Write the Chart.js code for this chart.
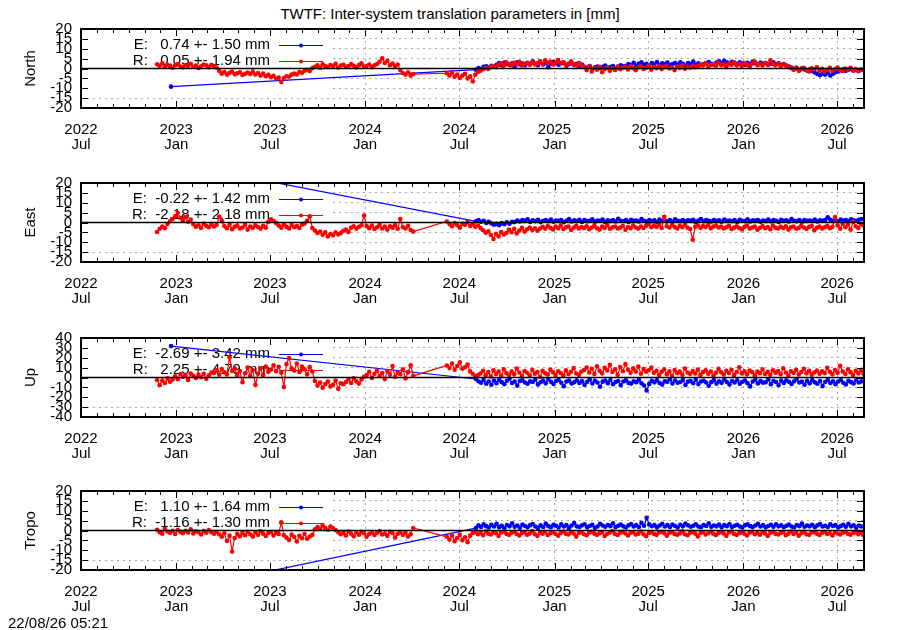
<!DOCTYPE html>
<html>
<head>
<meta charset="utf-8">
<title>TWTF: Inter-system translation parameters in [mm]</title>
<script src="https://cdn.jsdelivr.net/npm/chart.js@4.4.1/dist/chart.umd.min.js"></script>
<style>
  body { margin: 0; background: #fff; }
  #page { position: relative; width: 900px; height: 630px; font-family: "Liberation Sans", Arial, sans-serif; color: #000; }
  .panel { position: absolute; left: 0; }
  #title { position: absolute; top: 6px; left: 0; width: 900px; text-align: center; font-size: 15px; line-height: 15px; }
  #stamp { position: absolute; left: 8px; top: 615px; font-size: 15px; line-height: 15px; }
</style>
</head>
<body>
<div id="page">
  <div id="title">TWTF: Inter-system translation parameters in [mm]</div>
  <canvas class="panel" id="p0" width="900" height="134" style="top:19px"></canvas>
  <canvas class="panel" id="p1" width="900" height="134" style="top:173px"></canvas>
  <canvas class="panel" id="p2" width="900" height="134" style="top:328px"></canvas>
  <canvas class="panel" id="p3" width="900" height="134" style="top:481px"></canvas>
  <div id="stamp">22/08/26 05:21</div>
</div>
<script>
// x is days since 2022-07-01, one reading every 5 days
var stepDays = 5;
var xMax = 1513;
var firstE = 174;            // lone early E point (Dec 2022)
var redStart = [147, 707];   // R runs, gap Apr-Jun 2024
var blueStart = 763;

var tickDays = [0, 184, 365, 549, 731, 915, 1096, 1280, 1461];
var tickYears = ["2022", "2023", "2023", "2024", "2024", "2025", "2025", "2026", "2026"];
var tickMonths = ["Jul", "Jan", "Jul", "Jan", "Jul", "Jan", "Jul", "Jan", "Jul"];

var panelNames = ["North", "East", "Up", "Tropo"];
var panelLimits = [20, 20, 40, 20];
var panelSteps = [5, 5, 10, 5];
var panelTops = [29, 183, 338, 491];
var panelHeight = 79;
var keyE = ["E:   0.74 +- 1.50 mm", "E:  -0.22 +- 1.42 mm", "E:  -2.69 +- 3.42 mm", "E:   1.10 +- 1.64 mm"];
var keyR = ["R:   0.05 +- 1.94 mm", "R:  -2.18 +- 2.18 mm", "R:   2.25 +- 4.79 mm", "R:  -1.16 +- 1.30 mm"];
var eFirst = [-9.2, 30.4, 31.8, -31.0];

var northR1 = [2.1, 1.4, 2.6, 0.8, 1.9, 1.2, 0.4, 1.7, 2.2, 1.0, 0.6, 1.8, 1.3, 2.4, 0.9, 1.5, 0.3, 1.1, 2.0, 1.6, 0.7, 1.9, 1.2, 0.5,
  -1.2, -2.6, -1.8, -3.1, -2.2, -1.5, -2.9, -2.4, -1.9, -3.3, -2.7, -2.0, -2.8, -1.6, -3.0, -2.3, -3.6, -2.5, -3.9, -3.2, -4.4, -3.7, -5.1, -4.6, -6.8,
  -4.8, -3.9, -4.2, -3.1, -2.6, -3.0, -1.8, -2.2, -1.1, -0.6, -1.3, 0.2,
  0.9, 1.6, 0.4, 2.1, 1.3, 0.7, 1.8, 1.1, 2.4, 0.5, 1.5, 1.9, 0.8, 1.2, 2.2, 1.4, 0.6, 1.7, 2.6, 1.0, 1.3, 2.0, 0.7, 1.6, 2.3,
  3.4, 5.2, 2.8, 3.9, 1.7, 2.5, 1.2, 2.0,
  -0.8, -2.3, -3.1, -1.9, -3.6, -2.8];
var northR2 = [-2.4, -3.5, -2.1, -4.2, -3.0, -4.8, -3.6, -2.7, -5.1, -4.0, -6.6,
  -3.2, -1.8, -1.1, -0.4, 0.3, -0.2, 0.8, 1.2, 0.6,
  1.8, 2.6, 1.4, 3.1, 2.2, 1.7, 2.9, 2.0, 3.4, 1.5, 2.4, 2.8, 1.9, 3.3, 2.1, 2.7, 3.8, 2.3, 4.1, 2.9, 3.5, 2.0, 3.0, 4.3, 2.6, 3.2, 1.8, 2.5, 3.6, 2.2, 1.6, 2.8, 1.9,
  0.6, -0.8, 1.2, -1.5, 0.2, -0.6, 0.9, -1.9, -0.3, 0.5, -1.2, 0.1, -0.7, 1.0, -0.4, 0.3,
  0.8, -0.5, 1.3, 0.2, -0.9, 0.6, 1.1, -0.2, 0.4, 1.5, -0.6, 0.9, 0.1, 1.2, -0.3, 0.7, 1.4, 0.0, 0.5, -0.8, 1.0, 0.3, 1.6, -0.1, 0.8, 0.4, 1.3, 0.6,
  1.2, 2.0, 1.5, 2.6, 0.9, 1.8, 2.3, 1.4, 2.9, 1.7, 2.1, 1.0, 2.5, 1.9, 3.2, 1.6, 2.2, 1.3, 2.7, 2.0, 1.1, 2.4, 3.5, 1.8, 2.2, 1.5, 2.8, 1.9, 4.1, 2.3, 1.6, 2.5, 1.2, 2.0, 1.4, 0.8,
  0.2, -0.6, 0.5, -1.2, -0.3, 0.4, -0.9, -1.5, 0.1, -0.5, 0.6, -1.0, -0.2, -1.6, -0.7, 0.3, -1.1, -0.4, 0.5, -0.8, -1.3, 0.0, -0.6, 0.4, -1.0, -0.3, -1.4, -0.5, -0.9];
var northE = [-0.6, 0.2, -0.3, 0.8, 1.1, 0.5, 1.4, 0.9,
  1.9, 2.7, 1.5, 3.0, 2.3, 1.8, 2.6, 0.8, 3.2, 2.0, 2.5, 1.6, 2.9, 2.2, 3.6, 2.4, 1.7, 3.1, 2.0, 2.8, 0.6, 2.3, 3.4, 2.5, 1.9, 2.7, 3.0, 1.4, 2.2, 2.6, 1.8, 2.4, 1.2, 2.0,
  0.9, 0.2, 1.3, -0.4, 0.6, 1.0, 0.1, 0.8, 1.5, 0.3, 0.7, 1.2, -0.2, 0.9, 1.6, 1.1,
  1.4, 2.2, 1.8, 2.9, 1.5, 2.5, 3.1, 1.9, 2.4, 1.2, 2.8, 2.0, 3.3, 1.7, 2.6, 2.1, 3.0, 1.6, 2.3, 2.7, 1.9, 3.2, 2.4, 1.5, 2.8, 2.2, 3.5, 2.0, 2.6, 1.8,
  2.1, 2.8, 3.3, 2.4, 1.9, 3.0, 3.6, 2.7, 3.9, 3.2, 2.5, 3.4, 2.8, 2.2, 3.1, 2.6, 1.8, 2.9, 2.3, 3.5, 2.7, 2.0, 3.0, 2.4, 2.8, 1.9, 2.5, 3.2, 2.1, 2.6, 1.7, 2.3, 1.5, 1.0,
  0.5, -0.3, 0.2, -0.8, 0.1, -0.5, -1.0, -0.4, -1.3,
  -2.0, -2.8, -3.4, -2.5, -3.1, -2.2, -3.6, -2.7, -1.9, -1.5,
  -0.9, -0.4, -1.2, -0.6, -0.2, -1.0, -0.7, -1.3, -0.5];

var eastR1 = [-4.8, -3.2, -2.1, -2.9, -0.8,
  0.6, 1.8, 3.1, 4.9, 2.4, 1.2, 2.8, 0.4, 1.5,
  -0.9, -2.1, -1.4, -2.8, -0.6, -1.7, -2.4, -1.0, -2.0, -1.3,
  3.0, 0.8,
  -1.8, -2.9, -1.2, -3.4, -2.2, -1.5, -3.0, -2.5, -1.1, -3.6, -2.0, -2.7, -1.4, -2.3, -3.1, -1.7, -2.6,
  0.4, 1.6, 0.9, -0.3,
  -1.5, -2.6, -1.0, -2.2, -3.0, -1.3, -2.4, -1.8, -2.8, -1.1, -0.5, 0.8,
  3.2,
  -2.8, -4.1, -5.3, -4.6, -6.2, -5.0, -7.1, -5.8, -6.5, -4.9, -6.0, -5.4, -4.2, -3.6, -4.8,
  -2.6, -1.9, -3.1, -2.2, -1.4, 3.5,
  -1.8, -2.9, -1.5, -3.3, -2.4, -1.2, -3.0, -2.1, -3.6, -1.9, -2.6, -1.4, -3.2, 1.8, -2.3, -3.0, -1.7, -3.8, -4.6];
var eastR2 = [0.5, -0.8, -1.9, -0.3, -1.4, -2.6, -0.7, -1.2, 0.2, -1.8, -0.9, -2.2, -1.5,
  -2.8, -3.9, -5.2, -4.4, -6.3, -8.4, -5.7, -7.0, -4.8, -6.1, -5.3, -3.6, -4.9, -3.2, -5.6, -4.1, -2.7, -4.6, -3.4, -2.5, -3.8, -2.9, -4.2, -3.1,
  -2.2, -3.1, -1.8, -2.7, -3.5, -2.0, -2.9, -1.5, -3.3, -2.4, -2.0, -3.8, -2.6, -1.7, -3.0, -2.3, -2.8, -1.9, -3.4, -2.5, -1.6, -2.9, -3.6, -2.1, -2.7, -1.4, -3.2, -2.4, -2.0, -3.0, -2.6, -1.8, -3.7, -2.3, -2.9, -1.5, -2.5, -3.1, -2.0, -2.8, -1.7, -0.6, -2.4,
  -1.6, -2.3, -1.1, -2.8, 2.9, -1.9, -2.5, -1.3, -2.2, -3.0, -1.7, -2.4, -1.0, -2.6, -3.3, -8.7, -2.1, -1.5, -2.7, -1.8, -2.3, -1.2, -2.9, -2.0, -1.6, -2.5,
  -2.1, -3.0, -2.4, -1.7, -3.3, -2.6, -1.9, -2.8, -3.5, -2.2, -1.6, -3.1, -2.5, -2.0, -3.7, -2.7, -1.8, -2.9, -2.3, -3.4, -1.5, -2.6, -3.0, -2.1, -2.8, -1.9, -3.6, -2.4, -2.0, -3.2, -2.7, -1.6, -2.5, -3.3, -2.2, -1.8, -3.9, -2.6, -2.1, -3.0, -2.4, -1.7, -2.9, -2.2,
  2.8, -1.5, -3.2, -0.6, -2.4, -1.0, -3.6, 0.4, -1.9, -2.8, -0.9, -1.6];
var eastE = [0.6, 1.2, 0.4, 0.9, -0.2, 0.3,
  -0.5, -1.1, -0.7, -1.4, -0.3, -0.9, 0.1, -0.6, 0.4, 0.2,
  1.0, 0.5, 1.3, 0.8, 1.6, 0.3, 1.1, 0.7, 1.4, 0.2, 0.9, 1.2, 0.6, 1.5, 0.4,
  1.0, 0.8, 1.3, 0.1, 0.9, 1.7, 0.5, 1.1, 0.7, 1.4, 0.3, 1.2, 0.6, 0.9, 1.6,
  0.4, 1.0, 0.8, 1.5, 0.2, 1.1, 0.7, 1.3, 0.5, 1.9, 0.9, 0.6, 1.2, 0.3, 1.4,
  0.8, 1.0, 0.5, 1.7, 0.9, 0.4, 1.3, 0.7, 1.1, 0.2, 1.5, 0.8, 1.0, 0.6, 1.2,
  0.4, 1.6, 0.9, 0.7, 1.3, 0.5, 1.1, 0.8, 1.4, 0.3, 1.0, 1.8, 0.6, 1.2, 0.9,
  0.5, 1.3, 0.7, 1.1, 0.4, 1.5, 0.8, 1.0, 0.6, 1.2, 0.3, 1.4, 0.9, 0.7, 1.6,
  0.5, 1.1, 0.8, 1.3, 0.4, 1.0, 0.7, 1.5, 0.6, 1.2, 0.9, 0.3, 1.4, 0.8, 1.1,
  0.5, 1.7, 0.9, 0.6, 1.2, 0.4, 1.3, 0.8, 1.0, 0.7, 1.5, 0.5, 1.1, 0.9, 1.3,
  2.6, 1.4, 0.8, 1.2, 0.6, 1.5, 1.0, 1.3, 0.7, 1.6, 1.1, 0.9, 1.4, 1.8];

var upR1 = [-2.5, -7.8, -3.1, -5.6, -0.9, -4.3, -2.0,
  1.2, -1.8, 3.5, 0.6, 2.4, -2.6, 4.1, 1.8, -0.4, 2.9, 0.3, 3.8, -1.2, 2.2, 5.0,
  4.6, 7.2, 2.8, 8.5, 5.3, 3.1, 20.4, 6.7,
  9.2, 2.1, 6.5, -4.8, 4.3, 10.1, 1.5, 7.6, -7.5, 3.9, 8.8, 2.4, 11.2, 5.7,
  8.1, 12.4, 6.3, 10.8, 4.9, -9.6, 13.5, 19.8, 9.4, 7.0, 14.2, 5.6, 11.0, 8.3, 3.2, 10.5, 6.1,
  -3.5, -8.2, -5.1, -10.4, -6.7, -4.0, -9.1, -7.3, -3.2, -11.5, -5.8, -6.9,
  -4.6, -1.8, -5.5, -0.7, -3.9, -6.2, -2.1, 0.8,
  2.4, 5.8, -0.5, 3.7, 7.1, 1.2, 4.5, -1.6, 6.3, 2.9, 11.6, 0.6, 4.8, 3.3, 8.2, -0.9, 5.4, 12.3, 1.6];
var upR2 = [12.2, 9.5, 14.1, 7.8, 11.6, 15.3, 8.9, 10.4, 13.0,
  6.2, 3.8, 1.1, 2.5,
  4.1, 6.8, 2.3, 5.5, 0.9, 7.4, 3.6, 5.9, 1.7, 8.3, 4.4, 2.8, 6.1, 3.2, 9.0, 5.0, 1.4, 6.6, 4.8, 2.1, 7.7, 3.9, 5.6, 0.5, 6.9, 4.2, 3.0, 8.1, 5.3, 2.6, 6.4, 4.6, 1.9, 7.2, 3.5, 5.8, 9.6, 4.0, 2.7, 6.0,
  7.5, 10.2, 5.1, 8.8, 3.6, 11.4, 6.9, 4.2, 9.7, 7.1, 12.8, 5.6, 8.3, 2.9, 10.6, 6.4, 13.5, 7.8, 4.7, 9.2, 6.0, 11.1, 3.8, 8.5, 5.9, 7.3, 10.0,
  4.8, 6.9, 2.6, 5.7, 8.4, 3.3, 6.2, 1.5, 7.6, 4.4, 5.9, 2.8, 9.1, 5.0, 3.7, 6.6, 4.1, 8.0, 2.2, 5.4,
  7.3, 3.9, 6.1, 1.8, 4.7, 8.7, 5.2, 3.0, 6.8, 4.5, 7.9, 2.4, 5.6, 10.3, 4.0, 6.4, 3.2, 7.1, 5.3, 1.9,
  6.0, 4.3, 8.2, 3.6, 5.8, 2.7, 7.4, 4.9, 6.5, 3.4, 9.4, 5.1, 2.0, 6.3, 4.6, 7.7, 3.1, 5.5, 8.9, 4.2,
  6.7, 2.9, 5.0, 7.0, 3.8, 6.2, 4.4, 9.8, 5.7, 3.3, 7.5, 4.8, 11.8, 6.1, 3.5, 8.3, 5.2, 2.5, 6.9, 4.1,
  7.2, 3.7];
var upE = [-1.5, -3.8, -5.2, -2.6, -6.4, -4.1, -7.3, -3.0, -5.8, -2.2, -4.7, -6.9, -3.4, -1.1, -5.5, -4.0, -8.2, -3.6, -2.7, -5.1,
  -6.3, -3.9, -4.6, -2.0, -7.0, -4.8, -3.2, -5.9, -1.7, -4.3, -6.6, -3.5, -2.4, -5.3, -8.8, -4.1, -3.0, -6.1, -4.9, -2.8,
  -5.6, -3.7, -7.5, -4.4, -2.1, -6.0, -3.3, -5.0, -9.4, -4.2, -3.1, -5.7, -2.5, -6.8, -4.5, -3.6, -7.8, -4.0, -2.9, -5.4,
  -6.2, -3.8, -4.7, -2.3, -5.9, -8.1,
  -13.2,
  -6.5, -3.4, -4.9, -2.7, -5.6, -7.2, -3.9, -4.4, -1.8, -6.0, -3.1, -5.3, -4.6, -2.5, -7.6, -4.2, -3.5, -5.8, -2.2, -6.7,
  -4.0, -3.3, -5.1, -8.4, -4.7, -2.6, -6.2, -3.8, -5.4, -1.9, -4.5, -7.0, -3.6, -5.0, -2.8, -6.4, -4.3, -3.0, -5.7, -9.0,
  -4.1, -2.4, -6.1, -3.7, -5.2, -4.8, -2.1, -6.9, -3.5, -4.6, -7.9, -3.2, -5.5, -2.9, -4.4, -6.6, -3.9, -1.6, -5.1, -4.2,
  -7.4, -3.3, -5.9, -2.7, -4.9, -6.3, -3.6, -8.7, -4.5, -2.3, -5.6, -3.8, -6.8, -4.0, -2.5, -5.3, -7.1, -3.4, -4.7, -6.0,
  -2.8, -5.0, -3.9];

var tropoR1 = [0.4, -0.9, -1.6, 0.8, -0.5, -1.2, -0.2, -1.8, 0.3, -0.7, -1.4, -0.1, -1.0, 0.6, -1.5, -0.4, -0.8, -2.0, -0.3, -1.1, 0.2, -0.9, -1.7, -0.6,
  -1.9, -3.2, -1.4, -5.3, -2.6, -10.6, -3.8, -1.7, -2.9,
  -1.2, -2.4, -0.6, -1.9, -3.1, -1.0, -2.2, -0.4, -1.6, -2.8, -1.3, -0.8, -2.5, -1.1, -1.8,
  4.2,
  -2.4, -3.6, -4.8, -2.1, -3.3, -5.6, -2.7, -3.9, -1.8, -4.2, -3.0, -2.2,
  0.6, 1.8, 0.9, 2.6, 1.3, 0.4, 2.0, 1.1, 0.2,
  -0.8, -1.9, -1.2, -2.5, -0.5, -1.6, -2.9, -1.0, -2.1, -0.7, -1.4, -3.2, -1.8, -0.9, -2.3, -1.1, -0.4, -2.0, -1.5, -2.7, -0.6, -1.3, -3.5, -1.7, -0.8, -2.2, -1.2, -3.0, -1.9,
  1.3];
var tropoR2 = [-3.2, -4.6, -2.5, -5.4, -3.8, -2.1, -4.9, -3.4, -5.9,
  -2.6, -1.3, -0.7, -1.9, -1.1, -2.4, -0.5, -1.6, -2.0, -0.9, -1.4, -2.8, -1.0, -0.4, -1.7, -2.2, -1.2, -0.6, -1.8, -2.5,
  -1.3, -0.8, -2.1, -1.5, -0.3, -1.9, -2.7, -1.1, -1.6, -0.7, -2.3, -1.4, -0.9, -1.8, -2.6, -1.2, -0.5, -1.7, -2.0, -1.0,
  -1.5, -3.1, -1.3, -0.8, -1.9, -2.4, -1.1, -0.6, -1.6, -2.2, -1.4, -0.9, -2.8, -1.7, -1.0, -0.4, -1.8, -2.3, -1.2, -0.7,
  -1.5, -2.5, -1.1, -0.8, -2.0, -1.6, -0.5, -1.9, -2.9, -1.3, -0.9, -1.7, -2.2, -1.0, -0.6, -1.4, -2.6, -1.2, -0.8, -1.8,
  -2.1, -1.5, -0.4, -1.9, -2.4, -1.1, -0.7, -1.6, -3.0, -1.3, -0.9, -2.0, -1.4, -0.6, -1.7, -2.3, -1.2, -0.8, -1.5, -2.7,
  -1.0, -0.5, -1.8, -2.2, -1.4, -0.9, -1.6, -2.5, -1.1, -0.7, -1.9, -1.3, -2.1, -0.8, -1.5, -2.8, -1.2, -0.6, -1.7, -2.0,
  -1.3, -0.9, -2.4, -1.6, -0.5, -1.8, -1.1, -2.6, -1.4, -0.7, -1.9, -2.2, -1.0, -0.8, -1.6, -2.3, -1.2, -0.6, -1.8, -1.4,
  -2.5, -0.9, -1.5, -2.0, -1.1, -0.7, -1.7, -2.1, -1.3, -0.8, -1.9, -1.2, -2.4];
var tropoE = [1.2, 2.6, 1.8, 3.1, 2.2, 1.5, 2.9, 2.0, 3.4, 1.7, 2.4, 1.1, 2.8, 2.1, 3.6, 1.9, 2.5, 1.4, 3.0, 2.3,
  1.6, 2.7, 3.3, 2.0, 1.3, 2.6, 1.8, 3.5, 2.2, 1.7, 2.9, 2.4, 1.5, 3.1, 2.0, 2.7, 1.2, 2.5, 3.8, 2.1,
  1.8, 2.6, 3.2, 1.6, 2.3, 2.9, 1.4, 2.0, 3.4, 2.5, 1.9, 2.8, 2.2, 3.7, 1.7, 2.4, 3.0, 2.1, 1.5, 2.6,
  3.3, 2.0, 2.7, 1.8, 3.9, 2.4,
  6.4,
  3.1, 2.2, 2.8, 1.6, 2.5, 3.4, 2.0, 2.7, 1.8, 3.0, 2.3, 1.5, 2.9, 2.1, 3.5, 2.6, 1.9, 2.4, 3.2, 2.0,
  1.7, 2.8, 2.3, 3.6, 1.9, 2.5, 2.1, 3.0, 1.6, 2.7, 2.2, 3.3, 1.8, 2.4, 2.9, 2.0, 1.5, 2.6, 3.1, 2.2,
  1.8, 2.5, 3.4, 2.0, 2.7, 1.6, 2.3, 2.9, 1.9, 3.2, 2.1, 2.6, 1.7, 2.4, 3.0, 2.0, 1.5, 2.8, 2.2, 3.5,
  1.9, 2.5, 2.1, 2.9, 1.7, 2.6, 3.3, 2.0, 2.4, 1.8, 3.1, 2.3, 2.7, 1.6, 2.2, 2.9, 1.9, 3.4, 2.1, 2.6,
  1.4, 2.5, 2.0];

var redRuns = [[northR1, northR2], [eastR1, eastR2], [upR1, upR2], [tropoR1, tropoR2]];
var blueRuns = [northE, eastE, upE, tropoE];

var FONT = '"Liberation Sans", Arial, sans-serif';
Chart.defaults.color = "#000";
Chart.defaults.font.family = FONT;
Chart.defaults.font.size = 15;

function run(start, vals) {
  return vals.map(function (v, i) { return { x: start + i * stepDays, y: v }; });
}

// month starts for the small ticks
var monthDays = [];
for (var m = 0; m <= 49; m++) {
  monthDays.push((Date.UTC(2022, 6 + m, 1) - Date.UTC(2022, 6, 1)) / 864e5);
}

// gnuplot look: opaque key box, inward ticks, border and zero axis on top
var frame = {
  id: "frame",
  beforeDatasetsDraw: function (chart, args, opts) {
    var a = chart.chartArea, c = chart.ctx;
    c.save();
    c.fillStyle = "#fff";
    c.fillRect(a.left + 1, a.top + 1, 332 - a.left - 1, 63);
    c.font = "15px " + FONT;
    c.textAlign = "right";
    c.textBaseline = "middle";
    var rows = [[opts.keyE, "#0000ff", a.top + 16], [opts.keyR, "#ff0000", a.top + 32]];
    rows.forEach(function (r) {
      c.fillStyle = "#000";
      c.fillText(r[0], 270, r[2]);
      c.strokeStyle = r[1];
      c.lineWidth = 1;
      c.beginPath();
      c.moveTo(279, r[2] + 0.5);
      c.lineTo(323, r[2] + 0.5);
      c.stroke();
      c.fillStyle = r[1];
      c.beginPath();
      c.arc(301, r[2] + 0.5, 2, 0, Math.PI * 2);
      c.fill();
    });
    c.restore();
  },
  afterDatasetsDraw: function (chart) {
    var a = chart.chartArea, c = chart.ctx;
    var xs = chart.scales.x, ys = chart.scales.y;
    c.save();
    c.strokeStyle = "#000";
    c.lineWidth = 1.5;
    var y0 = ys.getPixelForValue(0);
    c.beginPath();
    c.moveTo(a.left, y0);
    c.lineTo(a.right, y0);
    c.stroke();
    c.lineWidth = 1;
    c.beginPath();
    monthDays.forEach(function (d) {
      if (d > xMax) return;
      var px = Math.round(xs.getPixelForValue(d)) + 0.5;
      var len = tickDays.indexOf(d) >= 0 ? 7 : 4;
      c.moveTo(px, a.bottom);
      c.lineTo(px, a.bottom - len);
      c.moveTo(px, a.top);
      c.lineTo(px, a.top + len);
    });
    ys.ticks.forEach(function (t) {
      var py = Math.round(ys.getPixelForValue(t.value)) + 0.5;
      c.moveTo(a.left, py);
      c.lineTo(a.left + 7, py);
      c.moveTo(a.right, py);
      c.lineTo(a.right - 7, py);
    });
    c.stroke();
    c.lineWidth = 2;
    c.strokeRect(a.left, a.top, a.right - a.left, a.bottom - a.top);
    c.restore();
  }
};

var NONE = "rgba(0,0,0,0)";

panelNames.forEach(function (name, k) {
  var lim = panelLimits[k];
  var red = run(redStart[0], redRuns[k][0]).concat(run(redStart[1], redRuns[k][1]));
  var blue = [{ x: firstE, y: eFirst[k] }].concat(run(blueStart, blueRuns[k]));
  var canvas = document.getElementById("p" + k);

  var chart = new Chart(canvas, {
    type: "line",
    data: {
      datasets: [
        {
          label: keyR[k],
          data: red,
          borderColor: "#ff0000",
          backgroundColor: "#ff0000",
          borderWidth: 1.2,
          pointRadius: 2.3,
          pointBorderWidth: 0,
          pointHoverRadius: 0
        },
        {
          label: keyE[k],
          data: blue,
          borderColor: "#0000ff",
          backgroundColor: "#0000ff",
          borderWidth: 1.2,
          pointRadius: 2.3,
          pointBorderWidth: 0,
          pointHoverRadius: 0
        }
      ]
    },
    options: {
      responsive: false,
      maintainAspectRatio: false,
      animation: false,
      events: [],
      layout: { padding: { top: 10, right: 36, left: 0, bottom: 0 } },
      plugins: {
        legend: { display: false },
        tooltip: { enabled: false },
        frame: { keyE: keyE[k], keyR: keyR[k] }
      },
      scales: {
        x: {
          type: "linear",
          min: 0,
          max: xMax,
          afterBuildTicks: function (axis) {
            axis.ticks = tickDays.map(function (d) { return { value: d }; });
          },
          afterFit: function (axis) { axis.height = 45; },
          ticks: {
            autoSkip: false,
            maxRotation: 0,
            padding: 8,
            font: { size: 15, lineHeight: 0.95 },
            callback: function (value, i) { return [tickYears[i], tickMonths[i]]; }
          },
          grid: {
            drawTicks: true,
            tickLength: 7,
            tickColor: NONE,
            lineWidth: 1,
            color: function (ctx) { return ctx.index <= 2 ? NONE : "#a8a8a8"; }
          },
          border: { display: false, dash: [2, 4] }
        },
        y: {
          min: -lim,
          max: lim,
          afterFit: function (axis) { axis.width = 81; },
          ticks: { stepSize: panelSteps[k], autoSkip: false, padding: 0, font: { size: 15 } },
          grid: {
            drawTicks: true,
            tickLength: 9,
            tickColor: NONE,
            lineWidth: 1,
            color: function (ctx) {
              var v = ctx.tick.value;
              return (v === 0 || Math.abs(v) === lim) ? NONE : "#a8a8a8";
            }
          },
          border: { display: false, dash: [2, 4] },
          title: { display: true, text: name, font: { size: 15 }, padding: { top: 22, bottom: 0 } }
        }
      }
    },
    plugins: [frame]
  });

  // pin the plot box to the reference position
  var ca = chart.chartArea;
  var h = ca.bottom - ca.top;
  if (Math.abs(h - panelHeight) > 0.5) {
    chart.resize(900, Math.round(canvas.height + panelHeight - h));
  }
  canvas.style.top = (panelTops[k] - chart.chartArea.top) + "px";
});
</script>
</body>
</html>
